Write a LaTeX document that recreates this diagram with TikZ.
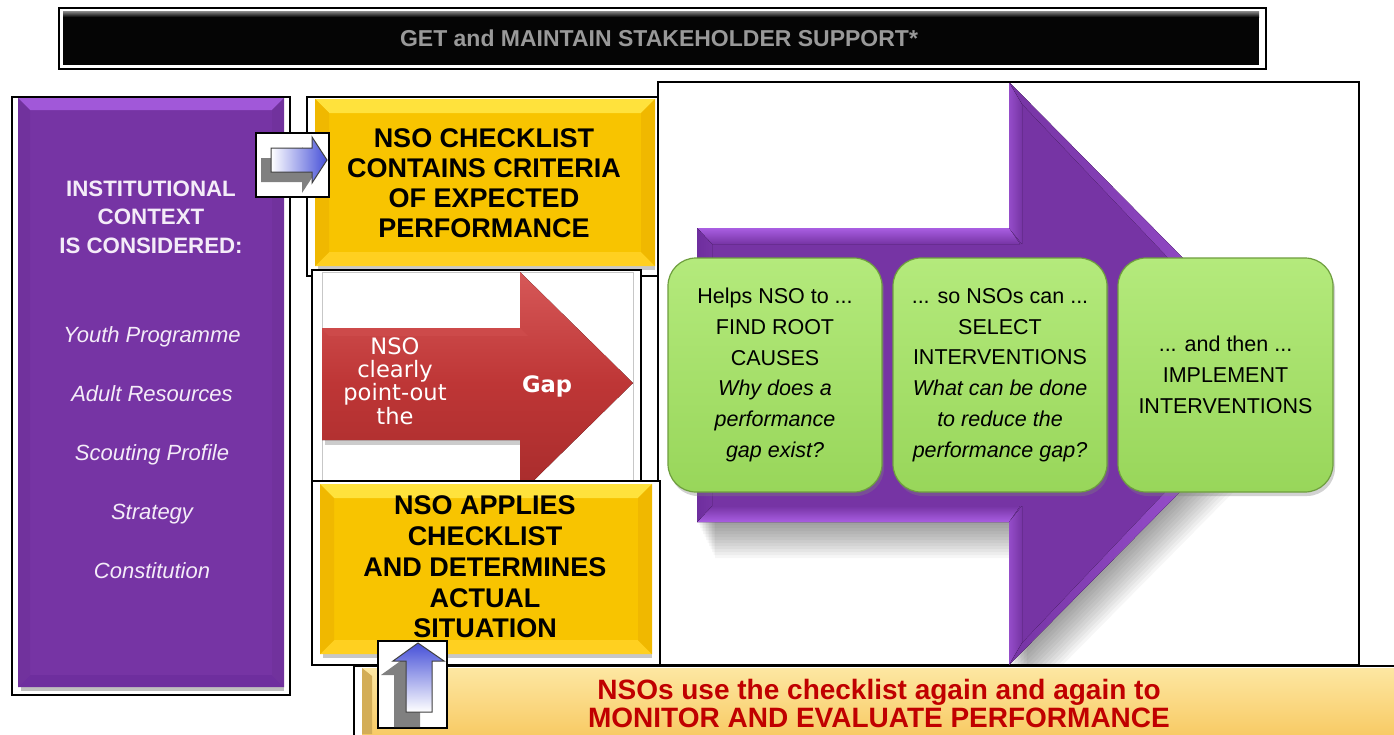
\documentclass[tikz,border=0pt]{standalone}
\usepackage{fontspec}
\setmainfont{Liberation Sans}
\newfontfamily\dvs{DejaVu Sans}
\usetikzlibrary{fit,shadows}
\definecolor{purp}{HTML}{7634A4}
\definecolor{purpL}{HTML}{A95EE2}
\definecolor{purpD}{HTML}{6E2E9E}
\definecolor{yel}{HTML}{F8C400}
\definecolor{yelL}{HTML}{FFE23C}
\definecolor{yelS}{HTML}{F0B800}
\definecolor{yelB}{HTML}{FFD020}
\definecolor{grn}{HTML}{98D65A}
\definecolor{grnL}{HTML}{B4EA7C}
\definecolor{grnD}{HTML}{6E9E3E}
\definecolor{redA}{HTML}{BE3636}
\definecolor{redL}{HTML}{D65858}
\definecolor{redD}{HTML}{A82C2C}
\definecolor{orng}{HTML}{F8CB66}
\definecolor{orngL}{HTML}{FDE7A2}
\definecolor{dred}{HTML}{C00000}
\definecolor{blu}{HTML}{4650D8}
\definecolor{lav}{HTML}{F4ECF8}
\newcommand\mybevel[9]{%
  \fill[#6] (#1,#2) rectangle (#3,#4);
  \fill[#7] (#1,#2) -- (#3,#2) -- (#3-#5,#2+#5) -- (#1+#5,#2+#5) -- cycle;
  \fill[#9] (#1,#4) -- (#3,#4) -- (#3-#5,#4-#5) -- (#1+#5,#4-#5) -- cycle;
  \fill[#8] (#1,#2) -- (#1+#5,#2+#5) -- (#1+#5,#4-#5) -- (#1,#4) -- cycle;
  \fill[#8] (#3,#2) -- (#3-#5,#2+#5) -- (#3-#5,#4-#5) -- (#3,#4) -- cycle;
}
\begin{document}
\begin{tikzpicture}[x=1pt,y=-1pt,
  box/.style={draw=black,line width=2pt,inner sep=0pt,fill=white},
  gbox/.style={rounded corners=28pt,draw=grnD,line width=1.2pt,top color=grnL,bottom color=grn,
     inner sep=0pt,minimum width=214pt,minimum height=234pt,align=center,
     font=\fontsize{21.5}{30.8}\selectfont,
     drop shadow={opacity=0.35,shadow xshift=2pt,shadow yshift=-4pt}},
  ybtext/.style={font=\bfseries\fontsize{27}{30}\selectfont,align=center,text=black},
  arrowfill/.style={draw=black!75,line width=1pt}
]
\clip (0,0) rectangle (1394,734);
\useasboundingbox (0,0) rectangle (1394,734);
\fill[white] (0,0) rectangle (1394,734);

% ---------- top bar ----------
\node[box,fit={(59,8) (1266,69)}] (topframe) {};
\node[fill=black!98,inner sep=0pt,fit={(63,11) (1259,65)}] (topbar) {};
\fill[top color=black!45,bottom color=black!98] (63,11) rectangle (1259,17);
\node[text=black!40,font=\bfseries\fontsize{23}{26}\selectfont] (toptext) at (659,38) {GET and MAINTAIN STAKEHOLDER SUPPORT*};

% ---------- big right frame ----------
\node[box,fit={(658,82) (1359,665)}] (bigframe) {};
\begin{scope}
  \clip (659,83) rectangle (1358,664);
  \foreach \o in {3,6,...,36}{
    \fill[black,opacity=0.035] (697+\o*0.5,228+\o) -- (1009+\o*0.5,228+\o) -- (1009+\o*0.5,82+\o) -- (1297+\o*0.5,373.5+\o)
      -- (1009+\o*0.5,665+\o) -- (1009+\o*0.5,522+\o) -- (697+\o*0.5,522+\o) -- cycle;
  }
  \fill[purp] (697,228) -- (1009,228) -- (1009,82) -- (1297,373.5) -- (1009,665) -- (1009,522) -- (697,522) -- cycle;
  \fill[top color=purpL,bottom color=purp] (697,228) -- (1009,228) -- (1020,244) -- (712,244) -- cycle;
  \fill[top color=purp,bottom color=purpL] (697,522) -- (1009,522) -- (1020,506) -- (712,506) -- cycle;
  \fill[left color=purpD,right color=purp] (697,228) -- (712,244) -- (712,506) -- (697,522) -- cycle;
  \fill[left color=purpL!60!purp,right color=purp] (1009,82) -- (1022,104) -- (1022,244) -- (1009,228) -- cycle;
  \fill[left color=purpL!60!purp,right color=purp] (1009,665) -- (1022,643) -- (1022,506) -- (1009,522) -- cycle;
  \fill[left color=purp,right color=purpL!80!purp] (1009,82) -- (1297,373.5) -- (1278,373.5) -- (1022,104) -- cycle;
  \fill[left color=purp,right color=purpL] (1009,665) -- (1297,373.5) -- (1278,373.5) -- (1022,643) -- cycle;
\end{scope}

\node[gbox] (g1) at (775,375) {Helps NSO to ...\\FIND ROOT\\CAUSES\\\textit{Why does a}\\\textit{performance}\\\textit{gap exist?}};
\node[gbox] (g2) at (1000,375) {... so NSOs can ...\\SELECT\\INTERVENTIONS\\\textit{What can be done}\\\textit{to reduce the}\\\textit{performance gap?}};
\node[gbox,minimum width=215pt] (g3) at (1225.5,375) {... and then ...\\IMPLEMENT\\INTERVENTIONS};

% ---------- purple box ----------
\node[box,fit={(12,97) (290,695)}] (purpframe) {};
\fill[black!25] (21,687) rectangle (284,691);
\mybevel{18}{98}{284}{687}{12}{purp}{purpL!85!purp}{purp!96!black}{purpD}
\node[text=lav,font=\bfseries\fontsize{22.3}{28.5}\selectfont,align=center] (ctx) at (151,217) {INSTITUTIONAL\\CONTEXT\\IS CONSIDERED:};
\node[text=lav,font=\itshape\fontsize{22}{59}\selectfont,align=center] (items) at (152,453) {Youth Programme\\Adult Resources\\Scouting Profile\\Strategy\\Constitution};

% ---------- top yellow box ----------
\node[box,fit={(307,97) (658,276)}] (yframe1) {};
\fill[black!22] (318,266) rectangle (655,270);
\mybevel{315}{99}{655}{266}{14}{yel}{yelL}{yelS}{yelB}
\node[ybtext] (chk) at (484,183) {NSO CHECKLIST\\CONTAINS CRITERIA\\OF EXPECTED\\PERFORMANCE};

% ---------- red arrow box ----------
\node[box,fit={(312,270) (641,481)}] (redframe) {};
\node[draw=black!22,line width=0.8pt,inner sep=0pt,fit={(322,272) (633,481)}] (redinner) {};
\begin{scope}
  \clip (322,272) rectangle (634,480);
  \fill[black!20] (325,440) rectangle (520,445);
  \fill[top color=redL,bottom color=redD,middle color=redA] (321,328) -- (520,328) -- (520,272) -- (633,383) -- (520,494) -- (520,440) -- (321,440) -- cycle;
  \fill[redL!60!redA] (321,328) -- (520,328) -- (528,336) -- (329,336) -- cycle;
\end{scope}
\node[text=white,font=\dvs\fontsize{22.6}{23.3}\selectfont,align=center] (nso) at (395,381) {NSO\\clearly\\point-out\\the};
\node[text=white,font=\dvs\bfseries\fontsize{22.6}{26}\selectfont] (gap) at (547,386) {Gap};

% ---------- lower yellow box ----------
\node[box,fit={(312,481) (660,665)}] (yframe2) {};
\fill[black!22] (323,654) rectangle (652,658);
\mybevel{320}{484}{652}{654}{14}{yel}{yelL}{yelS}{yelB}
\node[ybtext,font=\bfseries\fontsize{27}{30.75}\selectfont] (apply) at (485,567) {NSO APPLIES\\CHECKLIST\\AND DETERMINES\\ACTUAL\\SITUATION};

% ---------- bottom bar ----------
\node[box,fit={(354,666) (1400,740)}] (botframe) {};
\fill[top color=orngL,bottom color=orng] (362,668) rectangle (1394,734);
\fill[orng!85!black] (362,668) -- (372,676) -- (372,734) -- (362,734) -- cycle;
\node[text=dred,font=\bfseries\fontsize{28}{28}\selectfont,align=center] (mon) at (879,703) {NSOs use the checklist again and again to\\MONITOR AND EVALUATE PERFORMANCE};

% ---------- small right arrow ----------
\node[box,fit={(256,133) (329,197)}] (rabox) {};
\begin{scope}
  \clip (257,134) rectangle (328,196);
  \fill[black!50] (261,158) -- (302,158) -- (302,147) -- (317,170) -- (302,193) -- (302,182) -- (261,182) -- cycle;
  \draw[arrowfill,left color=white,right color=blu] (271,148) -- (312,148) -- (312,137) -- (327,160) -- (312,183) -- (312,172) -- (271,172) -- cycle;
\end{scope}

% ---------- small up arrow ----------
\node[box,fit={(378,641) (447,728)}] (uabox) {};
\begin{scope}
  \clip (379,642) rectangle (446,727);
  \fill[black!50] (394,727) -- (394,675) -- (381,675) -- (406,657) -- (431,675) -- (420,675) -- (420,727) -- cycle;
  \draw[arrowfill,top color=blu,bottom color=white] (406,712) -- (406,661) -- (393,661) -- (418,643) -- (444,661) -- (432,661) -- (432,712) -- cycle;
\end{scope}
\end{tikzpicture}
\end{document}
